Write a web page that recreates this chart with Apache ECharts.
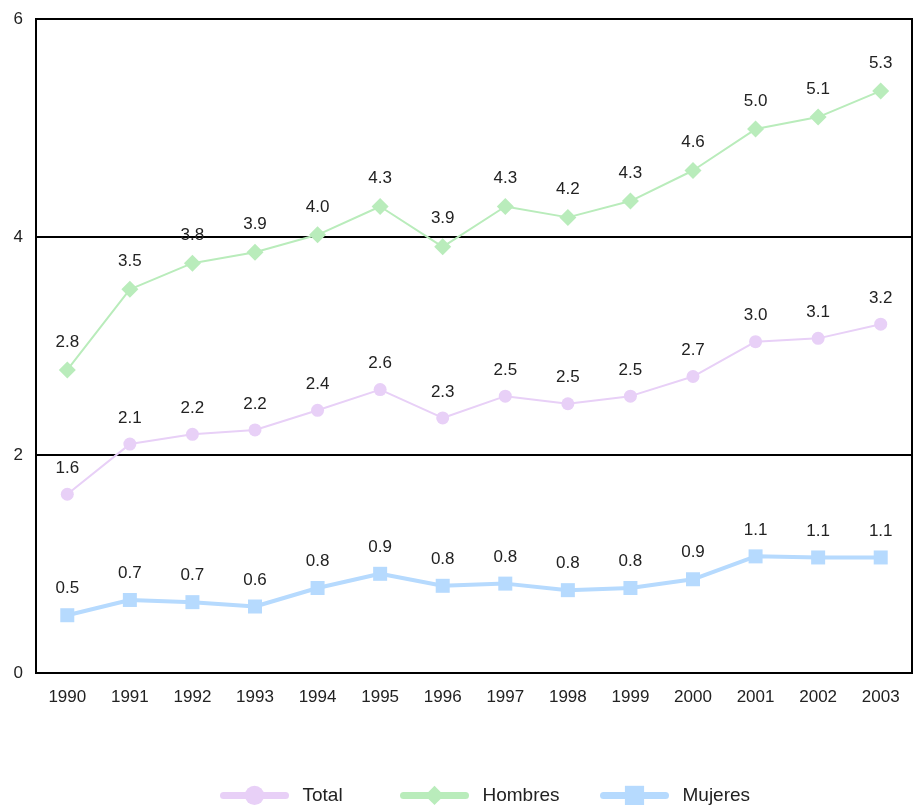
<!DOCTYPE html>
<html><head><meta charset="utf-8">
<script src="https://cdn.jsdelivr.net/npm/echarts@6/dist/echarts.min.js"></script>
<style>html,body{margin:0;padding:0;background:#fff}#c{width:914px;height:806px}</style>
</head><body><div id="c"></div>
<script>
const years = ['1990','1991','1992','1993','1994','1995','1996','1997','1998','1999','2000','2001','2002','2003'];
const total = [1.64,2.10,2.19,2.23,2.41,2.60,2.34,2.54,2.47,2.54,2.72,3.04,3.07,3.20];
const hombres = [2.78,3.52,3.76,3.86,4.02,4.28,3.91,4.28,4.18,4.33,4.61,4.99,5.10,5.34];
const mujeres = [0.53,0.67,0.65,0.61,0.78,0.91,0.80,0.82,0.76,0.78,0.86,1.07,1.06,1.06];
const yTicks = [0,2,4,6];

const font = 'Liberation Sans, Arial, sans-serif';
const lbl = {show:true, position:'top', distance:11, color:'#222', fontSize:17, fontFamily:font,
  formatter: p => p.value.toFixed(1)};
const chart = echarts.init(document.getElementById('c'));
const legendBase = {bottom:-4, itemWidth:62, itemHeight:24,
  lineStyle:{width:7, cap:'round'},
  textStyle:{fontSize:19, color:'#222', fontFamily:font, padding:[0,0,0,12]}};
chart.setOption({
  animation:false,
  grid:{left:36, right:2, top:19, bottom:133, show:true, borderColor:'#000', borderWidth:2},
  xAxis:{type:'category', data:years, boundaryGap:true,
    axisLine:{lineStyle:{color:'#000', width:2}}, axisTick:{show:false},
    axisLabel:{fontSize:17, color:'#222', fontFamily:font, margin:16}},
  yAxis:{type:'value', min:yTicks[0], max:yTicks[yTicks.length-1], interval:2,
    axisLine:{show:true, lineStyle:{color:'#000', width:2}}, axisTick:{show:false},
    splitLine:{show:true, lineStyle:{color:'#000', width:2}},
    axisLabel:{fontSize:17, color:'#222', fontFamily:font, margin:13}},
  legend:[
    Object.assign({}, legendBase, {left:215, data:['Total']}),
    Object.assign({}, legendBase, {left:395, data:['Hombres']}),
    Object.assign({}, legendBase, {left:595, data:['Mujeres']})
  ],
  series:[
    {name:'Total', type:'line', data:total, symbol:'circle', symbolSize:13,
      itemStyle:{color:'#e8d0f7'}, lineStyle:{color:'#e8d0f7', width:2}, label:lbl},
    {name:'Hombres', type:'line', data:hombres, symbol:'diamond', symbolSize:17,
      itemStyle:{color:'#b9ecbb'}, lineStyle:{color:'#b9ecbb', width:2}, label:lbl},
    {name:'Mujeres', type:'line', data:mujeres, symbol:'rect', symbolSize:14,
      itemStyle:{color:'#b6dafe'}, lineStyle:{color:'#b6dafe', width:4}, label:lbl}
  ]
});
</script></body></html>
